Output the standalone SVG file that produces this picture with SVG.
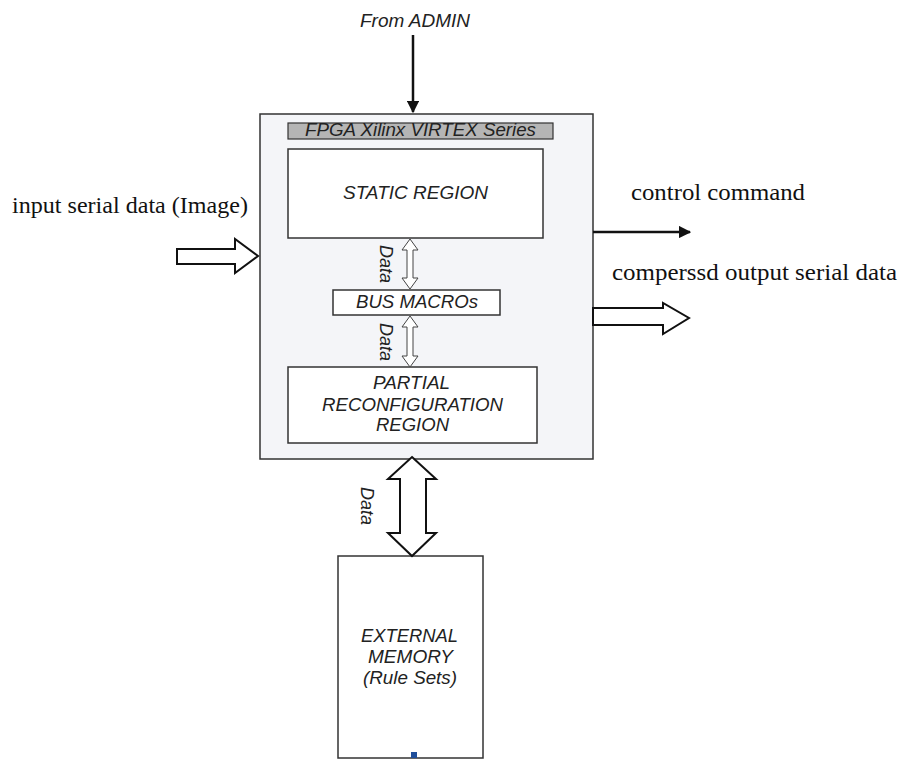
<svg xmlns="http://www.w3.org/2000/svg" width="902" height="759" viewBox="0 0 902 759">
<style>
.box{fill:#ffffff;stroke:#333;stroke-width:1.5}
.lbl{font-family:"Liberation Sans",Arial,sans-serif;font-style:italic;font-size:18px;fill:#222}
.ser{font-family:"Liberation Serif","Times New Roman",serif;font-size:24px;fill:#111}
.hollow{fill:#fff;stroke:#111;stroke-width:2;stroke-linejoin:miter}
.thin{fill:#fff;stroke:#444;stroke-width:1}
</style>
<defs>
<marker id="ah" viewBox="0 0 10 10" refX="9" refY="5" markerWidth="5" markerHeight="5" orient="auto" markerUnits="strokeWidth">
<path d="M0,0 L10,5 L0,10 Z" fill="#111"/>
</marker>
</defs>
<rect width="902" height="759" fill="#fff"/>
<g id="fpga">
<rect x="260" y="114" width="333" height="345" fill="#f4f5f8" stroke="#333" stroke-width="1.5"/>
<rect x="288" y="123" width="265" height="16" fill="#b5b5b5" stroke="#333" stroke-width="1.2"/>
<text class="lbl" x="305" y="136" font-size="17" textLength="231" lengthAdjust="spacingAndGlyphs">FPGA Xilinx VIRTEX Series</text>
</g>
<g id="static">
<rect class="box" x="288" y="149" width="255" height="89"/>
<text class="lbl" x="343" y="199" textLength="145" lengthAdjust="spacingAndGlyphs">STATIC REGION</text>
</g>
<g id="busmacros">
<rect class="box" x="333" y="290" width="167" height="25"/>
<text class="lbl" x="356" y="308" textLength="122" lengthAdjust="spacingAndGlyphs">BUS MACROs</text>
</g>
<g id="pr">
<rect class="box" x="288" y="367" width="249" height="76"/>
<text class="lbl" x="373" y="389" textLength="77" lengthAdjust="spacingAndGlyphs">PARTIAL</text>
<text class="lbl" x="322" y="411" textLength="181" lengthAdjust="spacingAndGlyphs">RECONFIGURATION</text>
<text class="lbl" x="376" y="431" textLength="73" lengthAdjust="spacingAndGlyphs">REGION</text>
</g>
<g id="memory">
<rect class="box" x="338" y="556" width="145" height="202"/>
<text class="lbl" x="361" y="642" textLength="97" lengthAdjust="spacingAndGlyphs">EXTERNAL</text>
<text class="lbl" x="368" y="663" textLength="85" lengthAdjust="spacingAndGlyphs">MEMORY</text>
<text class="lbl" x="363" y="684" textLength="94" lengthAdjust="spacingAndGlyphs">(Rule Sets)</text>
<rect x="411" y="752" width="6" height="6" fill="#1f4e9a"/>
</g>
<g id="labels">
<text x="360" y="27" class="lbl" font-size="17" textLength="110" lengthAdjust="spacingAndGlyphs">From ADMIN</text>
<text class="ser" x="12" y="213" textLength="236" lengthAdjust="spacingAndGlyphs">input serial data (Image)</text>
<text class="ser" x="631" y="200" textLength="174" lengthAdjust="spacingAndGlyphs">control command</text>
<text class="ser" x="612" y="280" textLength="285" lengthAdjust="spacingAndGlyphs">comperssd output serial data</text>
<text class="lbl" font-size="13" text-anchor="middle" transform="translate(380,264) rotate(90)">Data</text>
<text class="lbl" font-size="13" text-anchor="middle" transform="translate(380,342) rotate(90)">Data</text>
<text class="lbl" font-size="18" text-anchor="middle" transform="translate(361,506) rotate(90)">Data</text>
</g>
<g id="connectors">
<line x1="413" y1="35" x2="413" y2="112" stroke="#111" stroke-width="2.5" marker-end="url(#ah)"/>
<line x1="593" y1="232" x2="690" y2="232" stroke="#111" stroke-width="2.5" marker-end="url(#ah)"/>
<polygon class="hollow" points="177,249 235,249 235,239 258,256 235,273 235,264 177,264"/>
<polygon class="hollow" points="593,308 663,308 663,303 689,318 663,334 663,325 593,325"/>
<polygon class="hollow" points="412,457 436,479 426,479 426,533 436,533 412,556 388,533 400,533 400,479 388,479"/>
<polygon class="thin" points="410,239 418,250 413,250 413,278 418,278 410,289 402,278 407,278 407,250 402,250"/>
<polygon class="thin" points="410,316 418,327 413,327 413,356 418,356 410,367 402,356 407,356 407,327 402,327"/>
</g>
</svg>
